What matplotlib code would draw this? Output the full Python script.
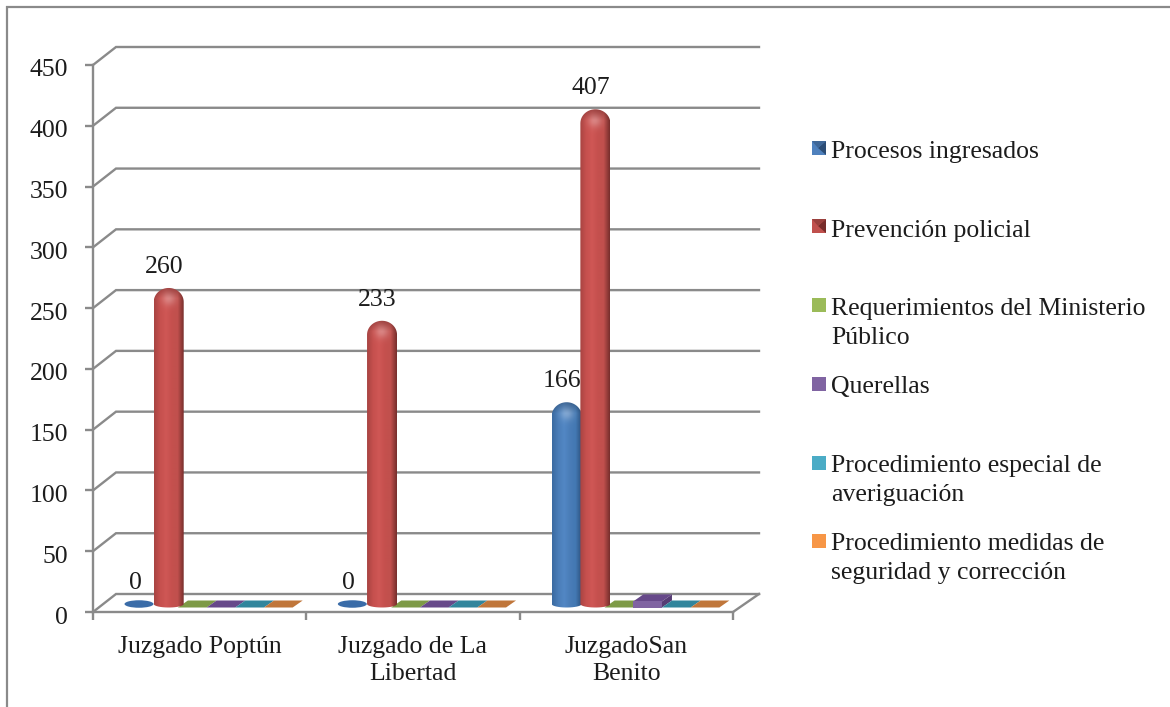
import numpy as np
import matplotlib
matplotlib.use("Agg")
import matplotlib.pyplot as plt
from matplotlib.colors import to_rgb
from matplotlib.lines import Line2D
from matplotlib.patches import Ellipse, PathPatch, Polygon
from matplotlib.path import Path
from matplotlib.transforms import ScaledTranslation

categories = ["Juzgado Poptún", "Juzgado de La\nLibertad", "JuzgadoSan\nBenito"]
series_names = ["Procesos ingresados", "Prevención policial",
                "Requerimientos del Ministerio\nPúblico", "Querellas",
                "Procedimiento especial de\naveriguación",
                "Procedimiento medidas de\nseguridad y corrección"]
procesos = [0, 0, 166]
prevencion = [260, 233, 407]
requerimientos = [0, 0, 0]
querellas = [0, 0, 5]
especial = [0, 0, 0]
medidas = [0, 0, 0]
y_ticks = [0, 50, 100, 150, 200, 250, 300, 350, 400, 450]

W, H = 1170, 707
GRID = "#8a8a8a"
TEXT = "#1c1c1c"
FONT = "Liberation Serif"
FS = 18.5
plt.rcParams["font.family"] = [FONT, "DejaVu Serif"]

fig = plt.figure(figsize=(W / 100, H / 100), dpi=100)
ax = fig.add_axes([93 / W, 1 - 612 / H, 640 / W, 547 / H])

# pixel sizes in data units
PX = 3 / 640
PY = 450 / 547
BASE = 8 * PY
SLOT = 28.7 * PX
START = 32 * PX
SKEW = 10 * PX
FLAT = 7 * PY


def fx(x):
    return x / W


def fy(y):
    return 1 - y / H


def grad(stops, n):
    pos = np.linspace(0, 1, len(stops))
    rgb = np.array([to_rgb(c) for c in stops])
    t = np.linspace(0, 1, n)
    return np.stack([np.interp(t, pos, rgb[:, i]) for i in range(3)], axis=1)


def cylinder(x0, value, stops):
    w = 30 * PX
    top = BASE + value
    ry = 14 * PY
    t = np.linspace(np.pi, 0, 30)
    xs = x0 + w / 2 + w / 2 * np.cos(t)
    ys = top - ry + ry * np.sin(t)
    b = np.linspace(0, -np.pi, 20)
    xb = x0 + w / 2 + w / 2 * np.cos(b)
    yb = BASE + 3.5 * PY * np.sin(b)
    verts = np.column_stack([np.r_[xs, xb], np.r_[ys, yb]])
    clip = PathPatch(Path(verts), transform=ax.transData, fc="none", ec="none")
    ax.add_patch(clip)

    # horizontal shading with a highlight near the top of the dome
    nx = 30
    ny = int(value / PY) + 12
    row = grad(stops, nx)
    img = np.repeat(row[np.newaxis, :, :], ny, axis=0)
    xx, yy = np.meshgrid(np.arange(nx), np.arange(ny))
    d = ((xx - 14.5) / 7.0) ** 2 + ((yy - 11) / 7.0) ** 2
    a = 0.28 * np.exp(-d)
    img = img + (1 - img) * a[:, :, np.newaxis]
    edge = np.clip((11 - yy) / 11, 0, 1) * 0.22
    img = img * (1 - edge[:, :, np.newaxis])
    im = ax.imshow(img, extent=(x0, x0 + w, BASE - 5 * PY, top), aspect="auto",
                   interpolation="bilinear", zorder=4, origin="upper")
    im.set_clip_path(clip)


def flat_box(x0, value, front, top_col, side_col):
    w = SLOT
    base = BASE - 3.5 * PY
    h = value
    ax.add_patch(Polygon([(x0, base + h), (x0 + w, base + h),
                          (x0 + w + SKEW, base + h + FLAT), (x0 + SKEW, base + h + FLAT)],
                         closed=True, fc=top_col, ec="none", zorder=3))
    if value > 0:
        ax.add_patch(Polygon([(x0, base), (x0 + w, base), (x0 + w, base + h), (x0, base + h)],
                             closed=True, fc=front, ec="none", zorder=3))
        ax.add_patch(Polygon([(x0 + w, base), (x0 + w + SKEW, base + FLAT),
                              (x0 + w + SKEW, base + h + FLAT), (x0 + w, base + h)],
                             closed=True, fc=side_col, ec="none", zorder=3))


# frame of the picture
fig.add_artist(Line2D([fx(7), fx(7)], [fy(6), fy(H)], color=GRID, lw=1.6, solid_capstyle="butt"))
fig.add_artist(Line2D([fx(6), fx(W)], [fy(7), fy(7)], color=GRID, lw=1.6, solid_capstyle="butt"))

# grid lines on the floor and back wall
depth_x = 23 * PX
depth_y = 18 * PY
for v in y_ticks:
    ax.plot([0, depth_x, 3 + 26 * PX], [v, v + depth_y, v + depth_y], color=GRID, lw=1.7,
            clip_on=False, zorder=1, solid_joinstyle="miter")
ax.plot([3, 3 + 26 * PX], [0, depth_y], color=GRID, lw=1.7, clip_on=False, zorder=1)

red_stops = ["#a94543", "#c6504e", "#cf5755", "#c5504e", "#c0504d", "#7b302e"]
blue_stops = ["#3b6ba2", "#4a7db8", "#5287c4", "#4a7db8", "#4378b2", "#2e5380"]
flat_cols = [("#9bbb59", "#7d9a46", "#6a8339"),
             ("#8064a2", "#67498a", "#563c74"),
             ("#4bacc6", "#31859c", "#276d80"),
             ("#f79646", "#c0763a", "#a56430")]
flat_series = [requerimientos, querellas, especial, medidas]
labels = []
for i, cat in enumerate(categories):
    left = i + START
    if procesos[i] > 0:
        cylinder(left, procesos[i], blue_stops)
    else:
        ax.add_patch(Ellipse((left + 14 * PX, BASE), 29 * PX, 7.5 * PY, fc="#3a6ca8", ec="none", zorder=3))
    labels.append((left + 15 * PX, procesos[i]))
    cylinder(left + SLOT, prevencion[i], red_stops)
    labels.append((left + SLOT + 15 * PX, prevencion[i]))
    for j, s in enumerate(flat_series):
        x0 = left + SLOT * (j + 2) - 4.5 * PX
        flat_box(x0, s[i], *flat_cols[j])

for x, v in labels:
    ax.annotate(str(v), (x, BASE + v), xytext=(-5, 21), textcoords="offset pixels",
                ha="center", va="center", fontsize=FS, color=TEXT, zorder=6)

ax.set_xlim(0, 3)
ax.set_ylim(0, 450)
ax.patch.set_visible(False)
for name in ["top", "right"]:
    ax.spines[name].set_visible(False)
for name in ["left", "bottom"]:
    ax.spines[name].set_color(GRID)
    ax.spines[name].set_linewidth(1.7)
ax.set_yticks(y_ticks)
ax.set_xticks([0, 1, 2, 3])
ax.set_xticklabels([])
ax.set_xticks([0.5, 1.5, 2.5], categories, minor=True, linespacing=1.3)
ax.tick_params(axis="y", length=5.8, width=1.7, color=GRID, labelsize=FS, labelcolor=TEXT, pad=12)
ax.tick_params(axis="x", which="major", length=5.8, width=1.7, color=GRID)
ax.tick_params(axis="x", which="minor", length=0, labelsize=FS, labelcolor=TEXT, pad=17)
down = ScaledTranslation(0, -3 / 100, fig.dpi_scale_trans)
for lab in ax.get_yticklabels():
    lab.set_transform(lab.get_transform() + down)

# legend
swatch_cols = ["#4f81bd", "#c0504d", "#9bbb59", "#8064a2", "#4bacc6", "#f79646"]
swatch_top = [141, 219, 298, 377, 456, 534]
text_base = [158, 237, 315, 393, 472, 550]
for k, name in enumerate(series_names):
    x0, x1, y0, y1 = 812, 826, swatch_top[k], swatch_top[k] + 14
    corners = [(fx(x0), fy(y0)), (fx(x1), fy(y0)), (fx(x1), fy(y1)), (fx(x0), fy(y1))]
    fig.add_artist(Polygon(corners, closed=True, fc=swatch_cols[k], ec="none", transform=fig.transFigure))
    if k < 2:
        centre = (fx(x0 + 6), fy((y0 + y1) / 2))
        dark = ["#2c4d75", "#772c2a"][k]
        mid = ["#3f6797", "#9a403d"][k]
        fig.add_artist(Polygon([corners[1], corners[2], centre], closed=True, fc=dark, ec="none",
                               transform=fig.transFigure))
        fig.add_artist(Polygon([corners[0], corners[1], centre], closed=True, fc=mid, ec="none",
                               transform=fig.transFigure))
    for n, line in enumerate(name.split("\n")):
        fig.text(fx(831), fy(text_base[k] + 29 * n), line, fontsize=FS, color=TEXT, va="baseline")

fig.savefig("out.png", dpi=100)
